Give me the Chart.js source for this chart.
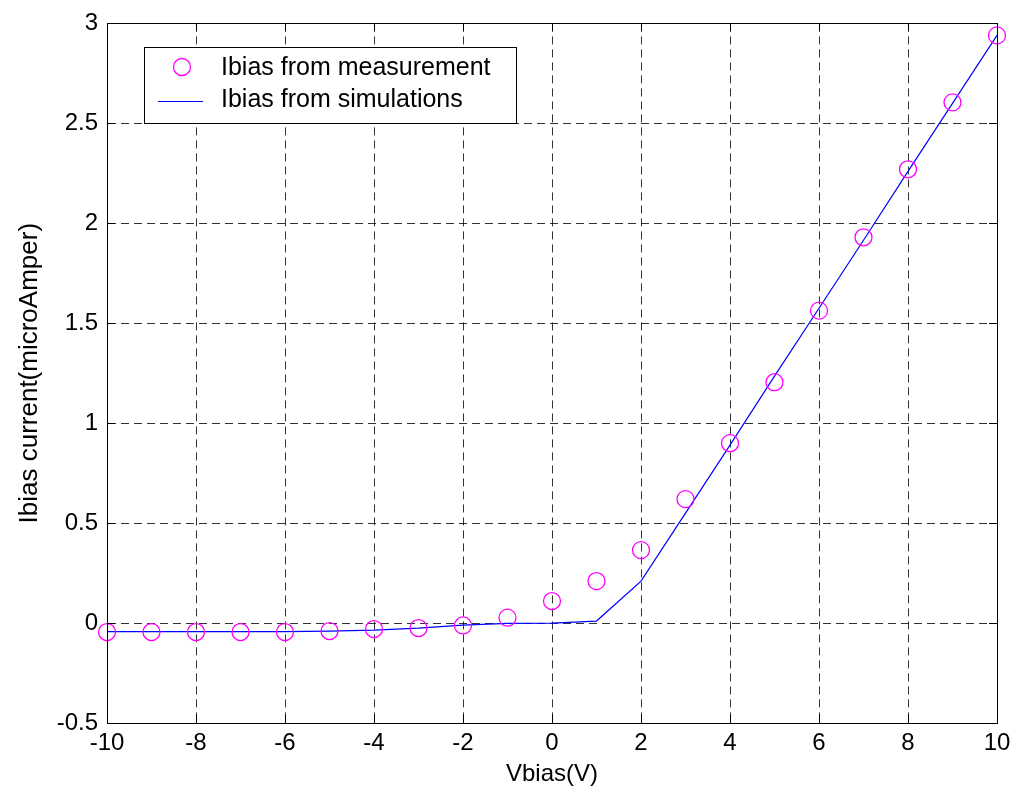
<!DOCTYPE html>
<html>
<head>
<meta charset="utf-8">
<title>Ibias vs Vbias</title>
<script src="https://cdn.jsdelivr.net/npm/chart.js@4/dist/chart.umd.min.js"></script>
<style>
  body { margin: 0; background: #fff; }
  canvas { display: block; }
</style>
</head>
<body>
<canvas id="ibias-chart" width="1018" height="794"></canvas>
<script>
// bias voltage sweep (V)
let vbias = [-10, -9, -8, -7, -6, -5, -4, -3, -2, -1, 0, 1, 2, 3, 4, 5, 6, 7, 8, 9, 10];
// measured current (uA)
let measured = [-0.045, -0.045, -0.045, -0.045, -0.045, -0.04, -0.03, -0.025, -0.012, 0.027,
  0.11, 0.21, 0.365, 0.62, 0.9, 1.205, 1.563, 1.93, 2.27, 2.605, 2.94];
// simulated current (uA)
let simulated = [-0.043, -0.043, -0.043, -0.043, -0.043, -0.04, -0.035, -0.025, -0.01, -0.002,
  0, 0.01, 0.21, 0.55, 0.89, 1.235, 1.575, 1.915, 2.26, 2.6, 2.94];
let xTicks = [-10, -8, -6, -4, -2, 0, 2, 4, 6, 8, 10];
let yTicks = [-0.5, 0, 0.5, 1, 1.5, 2, 2.5, 3];

const FONT = 'Arial, "Liberation Sans", sans-serif';

let toPoints = (ys) => vbias.map((v, i) => ({x: v, y: ys[i]}));

// white page, frame and inward tick marks, legend box
const frame = {
  id: 'frame',
  beforeDraw(chart) {
    const ctx = chart.ctx;
    ctx.save();
    ctx.fillStyle = '#fff';
    ctx.fillRect(0, 0, chart.width, chart.height);
    ctx.restore();
  },
  afterDatasetsDraw(chart) {
    const {ctx, chartArea: a, scales} = chart;
    const len = 8;
    ctx.save();
    ctx.strokeStyle = '#000';
    ctx.lineWidth = 1;
    ctx.beginPath();
    for (let v of xTicks) {
      let px = Math.round(scales.x.getPixelForValue(v)) + 0.5;
      ctx.moveTo(px, a.bottom); ctx.lineTo(px, a.bottom - len);
      ctx.moveTo(px, a.top); ctx.lineTo(px, a.top + len);
    }
    for (let v of yTicks) {
      let py = Math.round(scales.y.getPixelForValue(v)) + 0.5;
      ctx.moveTo(a.left, py); ctx.lineTo(a.left + len, py);
      ctx.moveTo(a.right, py); ctx.lineTo(a.right - len, py);
    }
    ctx.stroke();
    ctx.strokeRect(Math.round(a.left) + 0.5, Math.round(a.top) + 0.5,
      Math.round(a.right - a.left), Math.round(a.bottom - a.top));

    // legend
    const ds = chart.data.datasets;
    const bx = 144, by = 47, bw = 372, bh = 76;
    ctx.fillStyle = '#fff';
    ctx.fillRect(bx, by, bw, bh);
    ctx.strokeRect(bx + 0.5, by + 0.5, bw, bh);

    ctx.strokeStyle = ds[0].borderColor;
    ctx.lineWidth = ds[0].borderWidth;
    ctx.beginPath();
    ctx.arc(182, 67, ds[0].pointRadius, 0, Math.PI * 2);
    ctx.stroke();

    ctx.strokeStyle = ds[1].borderColor;
    ctx.lineWidth = ds[1].borderWidth;
    ctx.beginPath();
    ctx.moveTo(158, 101.5); ctx.lineTo(203, 101.5);
    ctx.stroke();

    ctx.fillStyle = '#000';
    ctx.font = '25px ' + FONT;
    ctx.textBaseline = 'middle';
    ctx.fillText(ds[0].label, 221, 68);
    ctx.fillText(ds[1].label, 221, 100);
    ctx.restore();
  }
};

new Chart(document.getElementById('ibias-chart'), {
  type: 'scatter',
  data: {
    datasets: [{
      label: 'Ibias from measurement',
      data: toPoints(measured),
      showLine: false,
      pointStyle: 'circle',
      pointRadius: 8.5,
      borderColor: '#ff00ff',
      backgroundColor: 'rgba(0,0,0,0)',
      borderWidth: 1.3,
      clip: false,
      order: 1
    }, {
      label: 'Ibias from simulations',
      data: toPoints(simulated),
      showLine: true,
      pointRadius: 0,
      borderColor: '#0000ff',
      backgroundColor: '#0000ff',
      borderWidth: 1.2,
      tension: 0,
      order: 2
    }]
  },
  options: {
    responsive: false,
    animation: false,
    events: [],
    layout: { padding: { top: 22, right: 21, left: 0, bottom: 0 } },
    plugins: {
      legend: { display: false },
      tooltip: { enabled: false }
    },
    scales: {
      x: {
        type: 'linear',
        min: -10,
        max: 10,
        afterFit: (s) => { s.height = 71; },
        afterBuildTicks: (s) => { s.ticks = xTicks.map(v => ({value: v})); },
        ticks: {
          color: '#000',
          padding: 6,
          font: { family: FONT, size: 24 },
          callback: (v) => String(v)
        },
        grid: { color: 'rgba(0,0,0,0.8)', lineWidth: 1, drawTicks: false },
        border: { display: true, color: '#000', width: 1, dash: [8, 5] },
        title: {
          display: true,
          text: 'Vbias(V)',
          color: '#000',
          font: { family: FONT, size: 24 },
          padding: { top: 0, bottom: 5 }
        }
      },
      y: {
        type: 'linear',
        min: -0.5,
        max: 3,
        afterFit: (s) => { s.width = 107; },
        afterBuildTicks: (s) => { s.ticks = yTicks.map(v => ({value: v})); },
        ticks: {
          color: '#000',
          padding: 9,
          font: { family: FONT, size: 24 },
          callback: (v) => String(v)
        },
        grid: { color: 'rgba(0,0,0,0.8)', lineWidth: 1, drawTicks: false },
        border: { display: true, color: '#000', width: 1, dash: [8, 5] },
        title: {
          display: true,
          text: 'Ibias current(microAmper)',
          color: '#000',
          font: { family: FONT, size: 26 },
          padding: { top: 14, bottom: 0 }
        }
      }
    }
  },
  plugins: [frame]
});
</script>
</body>
</html>
